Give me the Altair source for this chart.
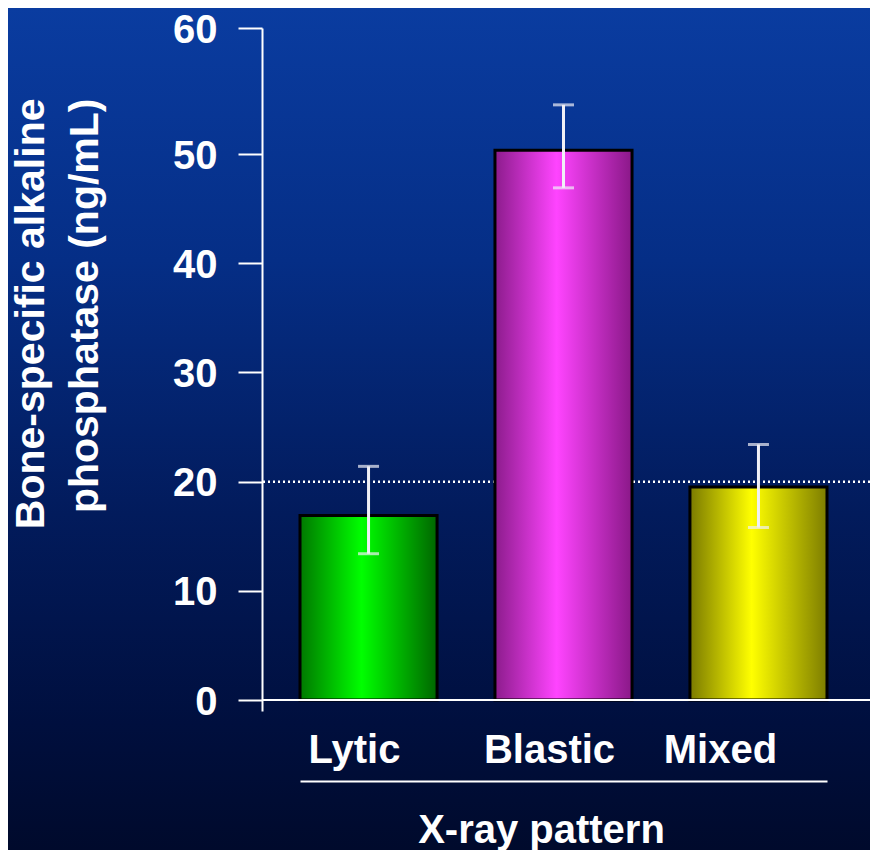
import altair as alt
import pandas as pd

# ---- data ----
categories = ["Lytic", "Blastic", "Mixed"]
means = [16.9, 50.3, 19.5]
err_low = [13.4, 46.9, 15.8]
err_high = [21.4, 53.9, 23.4]
threshold = [20]
y_ticks = [0, 10, 20, 30, 40, 50, 60]

# ---- styling ----
bright = ["#00ff00", "#ff44ff", "#ffff00"]
dark_left = ["#007800", "#8c1c8c", "#7a7a00"]
dark_right = ["#006600", "#8a1888", "#7d7d00"]
FONT = "Liberation Sans"

df = pd.DataFrame({"pattern": categories, "mean": means, "lo": err_low, "hi": err_high})

W, H = 608, 683

y_scale = alt.Scale(domain=[-1, 50, 60], range=[683, 126, 0], nice=False, zero=False)
x_scale = alt.Scale(domain=categories, range=[38, 565], paddingInner=0.297, paddingOuter=0)

x_axis = alt.Axis(
    orient="bottom", offset=70, domainColor="white", domainWidth=2, ticks=False,
    labelAngle=0, labelFont=FONT, labelFontSize=40, labelFontWeight="bold",
    labelColor="white", labelBaseline="alphabetic", labelPadding=-19,
    labelOffset={"condition": {"test": "datum.value === 'Mixed'", "value": -38}, "value": -14},
    title="X-ray pattern", titleFont=FONT, titleFontSize=40, titleFontWeight="bold",
    titleColor="white", titleBaseline="alphabetic", titleX=279, titleY=61, titleAlign="center",
    labelOverlap=False, zindex=1,
)
x_enc = alt.X("pattern:N", sort=categories, scale=x_scale, axis=x_axis)

y_axis = alt.Axis(
    orient="left", values=y_ticks, grid=False, tickSize=24, tickWidth=2, tickColor="white",
    domainColor="white", domainWidth=2, labelFont=FONT, labelFontSize=40,
    labelFontWeight="bold", labelColor="white", labelPadding=21, labelOffset=2,
    title=["Bone-specific alkaline", "phosphatase (ng/mL)"], titleFont=FONT,
    titleFontSize=41, titleFontWeight="bold", titleColor="white", titleAngle=270,
    titleBaseline="alphabetic", titleAlign="right", titleX=-219, titleY=70,
    titleLineHeight=54, zindex=1, labelOverlap=False,
)

bg_gradient = alt.LinearGradient(
    gradient="linear", x1=0, y1=0, x2=0, y2=1,
    stops=[
        alt.GradientStop(color="#0a3ca0", offset=0),
        alt.GradientStop(color="#052e86", offset=0.3),
        alt.GradientStop(color="#021b5c", offset=0.6),
        alt.GradientStop(color="#000f3e", offset=0.85),
        alt.GradientStop(color="#000a2c", offset=1),
    ],
)

background = alt.Chart(pd.DataFrame({"k": [0]})).mark_rect(fill=bg_gradient).encode(
    x=alt.value(-254), x2=alt.value(W), y=alt.value(-20), y2=alt.value(822)
)

def yq(field):
    return alt.Y(field, type="quantitative", scale=y_scale, axis=y_axis)

thr = alt.Chart(pd.DataFrame({"t": threshold})).mark_rule(
    color="#ffffff", strokeDash=[2, 3], strokeWidth=2.5
).encode(y=yq("t"))

base = alt.Chart(df)

bar_layers = []
for i, cat in enumerate(categories):
    grad = alt.LinearGradient(
        gradient="linear", x1=0, y1=0, x2=1, y2=0,
        stops=[
            alt.GradientStop(color=dark_left[i], offset=0),
            alt.GradientStop(color=bright[i], offset=0.45),
            alt.GradientStop(color=dark_right[i], offset=1),
        ],
    )
    layer = base.transform_filter(alt.datum.pattern == cat).mark_bar(
        fill=grad, stroke="black", strokeWidth=3
    ).encode(
        x=x_enc,
        y=yq("mean"),
        y2=alt.datum(0),
    )
    bar_layers.append(layer)

zero_rule = alt.Chart(pd.DataFrame({"z": [0]})).mark_rule(color="white", strokeWidth=2).encode(
    y=yq("z")
)

err_rule = base.mark_rule(color="#f0f0f6", strokeWidth=3).encode(
    x=x_enc, y=yq("lo"), y2="hi:Q"
)
cap_lo = base.mark_tick(color="#f0f0f6", size=21, thickness=3, orient="horizontal").encode(
    x=x_enc, y=yq("lo")
)
cap_hi = base.mark_tick(color="#f0f0f6", size=21, thickness=3, orient="horizontal").encode(
    x=x_enc, y=yq("hi")
)

chart = alt.layer(
    background, thr, *bar_layers, zero_rule, err_rule, cap_lo, cap_hi
).properties(
    width=W, height=H,
    autosize=alt.AutoSizeParams(type="none"),
    padding={"left": 254, "top": 20, "right": 0, "bottom": 139},
    background="#000a2c",
).configure_view(stroke=None).configure(font=FONT)

chart.save("out.html", embed_options={"renderer": "svg", "actions": False})
